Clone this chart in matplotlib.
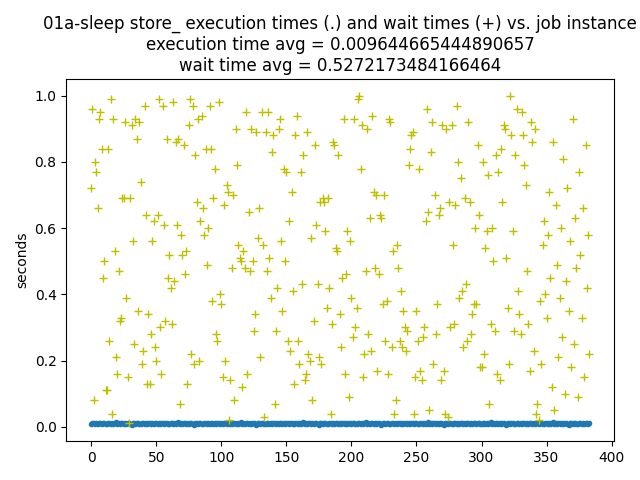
import matplotlib
matplotlib.use('Agg')
import matplotlib.pyplot as plt

title = ('01a-sleep store_ execution times (.) and wait times (+) vs. job instance\n'
         'execution time avg = 0.009644665444890657\n'
         'wait time avg = 0.5272173484166464')

# wait times, in job order
wait = [
 0.72, 0.96, 0.08, 0.80, 0.77, 0.66, 0.93, 0.95, 0.84, 0.45, 0.50, 0.11, 0.11, 0.84, 0.26, 0.99, 0.04, 0.93, 0.53, 0.21, 0.16, 0.47, 0.32, 0.33,
 0.69, 0.69, 0.92, 0.39, 0.15, 0.01, 0.69, 0.91, 0.56, 0.25, 0.93, 0.87, 0.35, 0.92, 0.74, 0.19, 0.23, 0.97, 0.64, 0.13, 0.34, 0.13, 0.28, 0.56,
 0.62, 0.24, 0.20, 0.64, 0.99, 0.30, 0.16, 0.97, 0.61, 0.32, 0.87, 0.45, 0.52, 0.42, 0.31, 0.98, 0.44, 0.86, 0.61, 0.87, 0.07, 0.58, 0.52, 0.85,
 0.46, 0.53, 0.13, 0.91, 0.99, 0.22, 0.97, 0.19, 0.82, 0.68, 0.93, 0.20, 0.62, 0.94, 0.66, 0.58, 0.84, 0.49, 0.60, 0.97, 0.84, 0.38, 0.69, 0.78,
 0.28, 0.26, 0.98, 0.40, 0.37, 0.15, 0.67, 0.20, 0.73, 0.71, 0.02, 0.14, 0.48, 0.70, 0.08, 0.90, 0.79, 0.55, 0.51, 0.50, 0.12, 0.53, 0.48, 0.95,
 0.16, 0.65, 0.47, 0.90, 0.50, 0.29, 0.34, 0.89, 0.57, 0.66, 0.21, 0.95, 0.55, 0.03, 0.89, 0.47, 0.95, 0.51, 0.39, 0.83, 0.88, 0.07, 0.29, 0.42,
 0.90, 0.93, 0.56, 0.35, 0.78, 0.50, 0.77, 0.26, 0.62, 0.23, 0.71, 0.41, 0.13, 0.88, 0.94, 0.26, 0.19, 0.77, 0.43, 0.82, 0.14, 0.16, 0.89, 0.22,
 0.20, 0.57, 0.08, 0.32, 0.85, 0.61, 0.43, 0.21, 0.68, 0.19, 0.69, 0.68, 0.59, 0.36, 0.69, 0.42, 0.04, 0.31, 0.86, 0.85, 0.54, 0.53, 0.82, 0.34,
 0.24, 0.45, 0.93, 0.16, 0.46, 0.59, 0.09, 0.56, 0.39, 0.27, 0.93, 0.30, 0.36, 0.99, 1.00, 0.78, 0.91, 0.15, 0.22, 0.47, 0.90, 0.28, 0.63, 0.23,
 0.94, 0.71, 0.48, 0.70, 0.17, 0.46, 0.64, 0.63, 0.37, 0.70, 0.26, 0.38, 0.16, 0.93, 0.92, 0.24, 0.53, 0.04, 0.08, 0.55, 0.48, 0.26, 0.41, 0.24,
 0.35, 0.30, 0.23, 0.29, 0.79, 0.84, 0.88, 0.89, 0.04, 0.15, 0.35, 0.26, 0.78, 0.17, 0.14, 0.27, 0.30, 0.62, 0.96, 0.65, 0.05, 0.83, 0.92, 0.19,
 0.70, 0.28, 0.37, 0.64, 0.66, 0.14, 0.91, 0.17, 0.04, 0.90, 0.03, 0.68, 0.30, 0.91, 0.55, 0.31, 0.67, 0.97, 0.80, 0.39, 0.75, 0.41, 0.24, 0.69,
 0.43, 0.26, 0.92, 0.68, 0.28, 0.34, 0.37, 0.60, 0.37, 0.85, 0.64, 0.18, 0.18, 0.80, 0.22, 0.54, 0.59, 0.76, 0.07, 0.31, 0.60, 0.50, 0.29, 0.82,
 0.16, 0.77, 0.14, 0.84, 0.68, 0.91, 0.90, 0.51, 0.36, 0.19, 1.00, 0.88, 0.59, 0.29, 0.82, 0.96, 0.41, 0.34, 0.28, 0.95, 0.88, 0.79, 0.73, 0.47,
 0.31, 0.17, 0.92, 0.86, 0.23, 0.90, 0.04, 0.07, 0.02, 0.38, 0.19, 0.55, 0.62, 0.40, 0.33, 0.58, 0.71, 0.45, 0.12, 0.86, 0.05, 0.67, 0.49, 0.21,
 0.39, 0.60, 0.27, 0.81, 0.10, 0.44, 0.72, 0.35, 0.56, 0.18, 0.93, 0.25, 0.63, 0.48, 0.09, 0.77, 0.52, 0.33, 0.66, 0.15, 0.85, 0.42, 0.58, 0.22,
]

# execution times, all close to 0.01 s
exec_base = [0.009, 0.011, 0.010, 0.008, 0.012, 0.009, 0.010, 0.013, 0.008, 0.010, 0.011, 0.009,
             0.007, 0.010, 0.012, 0.009, 0.011, 0.008, 0.010, 0.014, 0.009, 0.010, 0.008, 0.011,
             0.010, 0.009, 0.012, 0.008, 0.010, 0.011, 0.009, 0.006, 0.010, 0.012, 0.009, 0.010,
             0.011, 0.008, 0.009, 0.013, 0.010, 0.009, 0.011, 0.008, 0.010, 0.012, 0.009, 0.010]
execution = (exec_base * 8)[:len(wait)]

fig, ax = plt.subplots(figsize=(6.4, 4.8), dpi=100)
ax.plot(range(len(execution)), execution, '.-', color='C0')
ax.plot(range(len(wait)), wait, 'y+')
ax.set_ylabel('seconds')
ax.set_title(title)
fig.tight_layout()
fig.savefig('out.png')
